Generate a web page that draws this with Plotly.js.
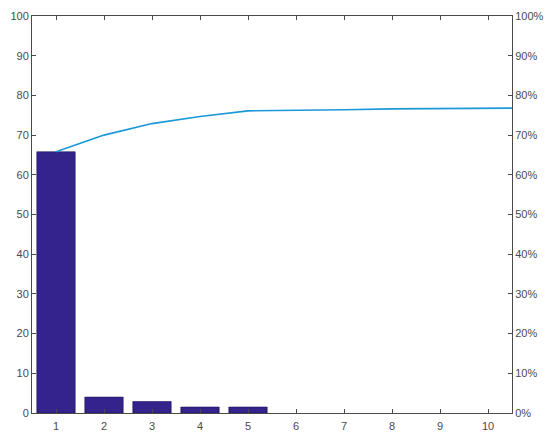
<!DOCTYPE html>
<html>
<head>
<meta charset="utf-8">
<script src="https://cdn.plot.ly/plotly-3.0.1.min.js"></script>
<style>html,body{margin:0;padding:0;background:#fff}#chart{width:550px;height:442px}</style>
</head>
<body>
<div id="chart"></div>
<script>
// Pareto chart data
var barCategories = [1, 2, 3, 4, 5];
var barValues = [65.8, 4.0, 2.9, 1.5, 1.5];
var lineCategories = [1, 2, 3, 4, 5, 6, 7, 8, 9, 10, 10.5];
var cumulativeValues = [65.8, 70.0, 72.9, 74.7, 76.1, 76.2, 76.4, 76.6, 76.7, 76.8, 76.8];
var xTickValues = [1, 2, 3, 4, 5, 6, 7, 8, 9, 10];
var leftTickValues = [0, 10, 20, 30, 40, 50, 60, 70, 80, 90, 100];
var rightTickValues = [0, 10, 20, 30, 40, 50, 60, 70, 80, 90, 100];
var rightTickLabels = ['0%', '10%', '20%', '30%', '40%', '50%', '60%', '70%', '80%', '90%', '100%'];

var axisColor = '#4a4a4a';
var tickFont = {family: 'Liberation Sans, Arial, sans-serif', size: 11, color: '#4a4a4a'};

var data = [
  {
    type: 'bar',
    x: barCategories,
    y: barValues,
    width: 0.8,
    marker: {color: '#33238a', line: {color: '#1c1460', width: 0.6}},
    hoverinfo: 'none'
  },
  {
    type: 'scatter',
    mode: 'lines',
    x: lineCategories,
    y: cumulativeValues,
    line: {color: '#1b98d8', width: 1.6},
    cliponaxis: true,
    hoverinfo: 'none'
  },
  {
    type: 'scatter',
    mode: 'lines',
    x: [1],
    y: [0],
    yaxis: 'y2',
    line: {color: 'rgba(0,0,0,0)'},
    hoverinfo: 'none'
  }
];

var layout = {
  width: 550,
  height: 442,
  margin: {l: 32, r: 38, t: 16, b: 29},
  paper_bgcolor: '#fff',
  plot_bgcolor: '#fff',
  showlegend: false,
  xaxis: {
    range: [0.5, 10.5],
    tickvals: xTickValues,
    ticks: 'inside',
    ticklen: 4,
    tickcolor: axisColor,
    showline: true,
    linecolor: axisColor,
    linewidth: 1,
    mirror: 'ticks',
    showgrid: false,
    zeroline: false,
    ticklabelstandoff: 3,
    tickfont: tickFont
  },
  yaxis: {
    range: [0, 100],
    tickvals: leftTickValues,
    ticks: 'inside',
    ticklen: 4,
    tickcolor: axisColor,
    showline: true,
    linecolor: axisColor,
    linewidth: 1,
    showgrid: false,
    zeroline: false,
    tickfont: tickFont
  },
  yaxis2: {
    overlaying: 'y',
    side: 'right',
    range: [0, 100],
    tickvals: rightTickValues,
    ticktext: rightTickLabels,
    ticks: 'inside',
    ticklen: 4,
    tickcolor: axisColor,
    showline: true,
    linecolor: axisColor,
    linewidth: 1,
    showgrid: false,
    zeroline: false,
    tickfont: tickFont
  }
};

Plotly.newPlot('chart', data, layout, {staticPlot: true, displayModeBar: false});
</script>
</body>
</html>
